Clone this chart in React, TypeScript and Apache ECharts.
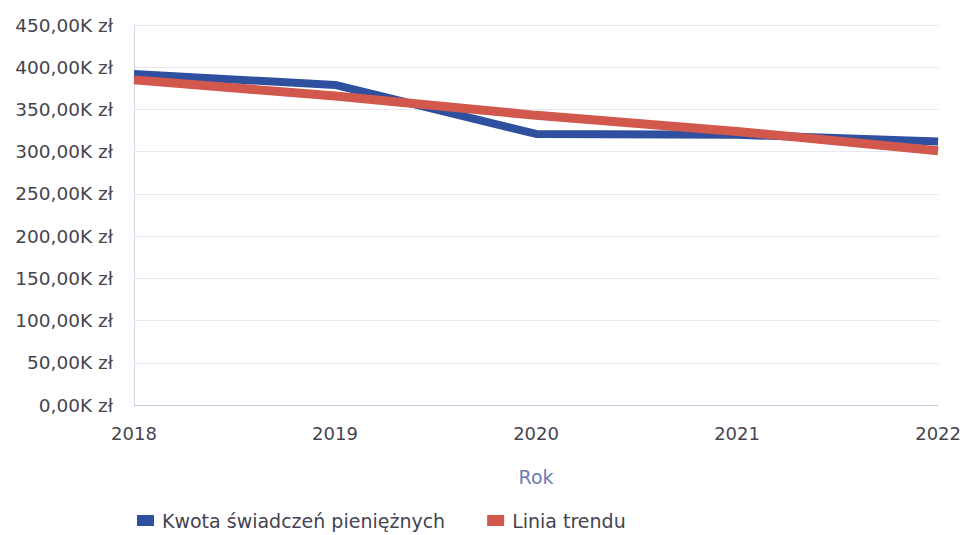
import React, { useEffect, useRef } from "react";
import * as echarts from "echarts";

const years = ["2018", "2019", "2020", "2021", "2022"];
const kwota = [392, 379, 321, 320, 312];
const trend = [385, 366, 343, 324, 301];
const seriesNames = ["Kwota świadczeń pieniężnych", "Linia trendu"];
const axisName = "Rok";

const FONT = "DejaVu Sans";

export default function App() {
  const ref = useRef<HTMLDivElement>(null);
  useEffect(() => {
    if (!ref.current) return;
    const chart = echarts.init(ref.current, undefined, { renderer: "svg" });
    chart.setOption({
      animation: false,
      backgroundColor: "#ffffff",
      grid: { left: 134, right: 22, top: 25, bottom: 130, containLabel: false },
      legend: {
        bottom: 0,
        left: 132,
        icon: "rect",
        itemWidth: 17,
        itemHeight: 11,
        itemGap: 42,
        textStyle: { fontFamily: FONT, fontSize: 19, color: "#444450", padding: [0, 0, 0, 3] },
        data: seriesNames,
      },
      xAxis: {
        type: "category",
        data: years,
        boundaryGap: false,
        name: axisName,
        nameLocation: "middle",
        nameGap: 62,
        nameTextStyle: { fontFamily: FONT, fontSize: 19, color: "#6c7cb4" },
        axisLine: { show: true, lineStyle: { color: "#c9cde0", width: 1 } },
        axisTick: { show: false },
        axisLabel: { fontFamily: FONT, fontSize: 18, color: "#45454f", margin: 19 },
        splitLine: { show: false },
      },
      yAxis: {
        type: "value",
        min: 0,
        max: 450,
        interval: 50,
        axisLine: { show: true, lineStyle: { color: "#d4d8e6", width: 1 } },
        axisTick: { show: false },
        axisLabel: {
          fontFamily: FONT,
          fontSize: 18.5,
          color: "#45454f",
          margin: 21,
          formatter: (v: number) => v.toFixed(2).replace(".", ",") + "K zł",
        },
        splitLine: { show: true, lineStyle: { color: "#e6e8ef", width: 1 } },
      },
      series: [
        {
          name: seriesNames[0],
          type: "line",
          data: kwota,
          showSymbol: false,
          symbol: "none",
          lineStyle: { color: "#2f4f9f", width: 8, join: "round" },
          itemStyle: { color: "#2f4f9f" },
          z: 2,
        },
        {
          name: seriesNames[1],
          type: "line",
          data: trend,
          showSymbol: false,
          symbol: "none",
          lineStyle: { color: "#d2574c", width: 9 },
          itemStyle: { color: "#d2574c" },
          z: 3,
        },
      ],
    });
    return () => chart.dispose();
  }, []);
  return <div ref={ref} style={{ width: 964, height: 535, position: "absolute", left: 0, top: 0 }} />;
}
